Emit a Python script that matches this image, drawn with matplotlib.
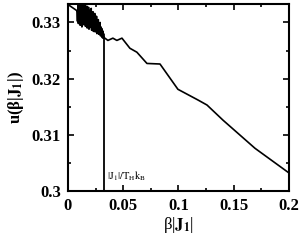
import matplotlib
matplotlib.use("Agg")
import matplotlib.pyplot as plt
from matplotlib.ticker import MultipleLocator

plt.rcParams['mathtext.fontset'] = 'stix'
plt.rcParams['font.family'] = ['Liberation Serif', 'DejaVu Serif']

# curve: beta|J1| vs u(beta|J1|)
beta_j = [0.0, 0.0081,
          0.0083, 0.0087, 0.0091, 0.0095, 0.0099, 0.0103, 0.0107, 0.0111, 0.0115,
          0.0119, 0.0123, 0.0127, 0.0131, 0.0135, 0.0139, 0.0143, 0.0147, 0.0151,
          0.0155, 0.0159, 0.0163, 0.0167, 0.0171, 0.0175, 0.0179, 0.0183, 0.0187,
          0.0191, 0.0195, 0.0199, 0.0203, 0.0207, 0.0211, 0.0215, 0.0219, 0.0223,
          0.0227, 0.0231, 0.0235, 0.0239, 0.0243, 0.0247, 0.0251, 0.0255, 0.0259,
          0.0263, 0.0267, 0.0271, 0.0275, 0.0279, 0.0283, 0.0287, 0.0291, 0.0295,
          0.0299, 0.0303, 0.0307, 0.0311, 0.0315, 0.0319, 0.0323, 0.0327,
          0.0335, 0.0362, 0.0407, 0.0443, 0.0489, 0.0561, 0.0624, 0.0715, 0.0833,
          0.0995, 0.1176, 0.1258, 0.1403, 0.1692, 0.2000]
u_val = [0.3332, 0.3321,
         0.3318, 0.3302, 0.3330, 0.3298, 0.3336, 0.3304, 0.3322, 0.3295, 0.3333,
         0.3308, 0.3338, 0.3292, 0.3326, 0.3301, 0.3331, 0.3296, 0.3320, 0.3300,
         0.3334, 0.3293, 0.3324, 0.3306, 0.3329, 0.3290, 0.3318, 0.3299, 0.3327,
         0.3288, 0.3316, 0.3297, 0.3322, 0.3291, 0.3325, 0.3286, 0.3313, 0.3295,
         0.3319, 0.3284, 0.3310, 0.3292, 0.3316, 0.3283, 0.3306, 0.3289, 0.3311,
         0.3280, 0.3301, 0.3286, 0.3305, 0.3279, 0.3297, 0.3283, 0.3300, 0.3276,
         0.3292, 0.3279, 0.3289, 0.3273, 0.3285, 0.3272, 0.3280, 0.3273,
         0.3272, 0.3268, 0.3272, 0.3268, 0.3272, 0.3254, 0.3247, 0.3227, 0.3226,
         0.3181, 0.3162, 0.3153, 0.3126, 0.3076, 0.3032]

# marker line at |J1|/T_H k_B
x_mark = 0.0326
y_mark_top = 0.3274

fig = plt.figure(figsize=(3.03, 2.43), dpi=100)
ax = fig.add_axes([0.224, 0.214, 0.730, 0.770])

ax.plot(beta_j, u_val, color='black', lw=1.2)
ax.plot([x_mark, x_mark], [0.3, y_mark_top], color='black', lw=1.3)
ax.text(x_mark + 0.003, 0.3015, r'$|\mathrm{J_1}|/\mathrm{T_H k_B}$',
        fontsize=7.5, va='bottom')

ax.set_xlim(0, 0.2)
ax.set_ylim(0.3, 0.3333)
ax.xaxis.set_minor_locator(MultipleLocator(0.025))
ax.yaxis.set_minor_locator(MultipleLocator(0.005))
ax.set_xticks([0, 0.05, 0.1, 0.15, 0.2])
ax.set_xticklabels(['0', '0.05', '0.1', '0.15', '0.2'])
ax.set_yticks([0.3, 0.31, 0.32, 0.33])
ax.set_yticklabels(['0.3', '0.31', '0.32', '0.33'])
ax.tick_params(which='both', direction='in', top=True, right=True, width=1.2)
ax.tick_params(which='major', length=4, pad=5)
ax.tick_params(which='minor', length=2)
for lbl in ax.get_xticklabels() + ax.get_yticklabels():
    lbl.set_fontweight('bold')
    lbl.set_fontsize(12)
for s in ax.spines.values():
    s.set_linewidth(1.5)

ax.set_xlabel(r'β|$\mathbf{J_1}$|', fontsize=12, labelpad=1)
ax.set_ylabel(r'u(β|$\mathbf{J_1}$|)', fontsize=12, labelpad=4, fontweight='bold')

fig.savefig('out.png', dpi=100)
